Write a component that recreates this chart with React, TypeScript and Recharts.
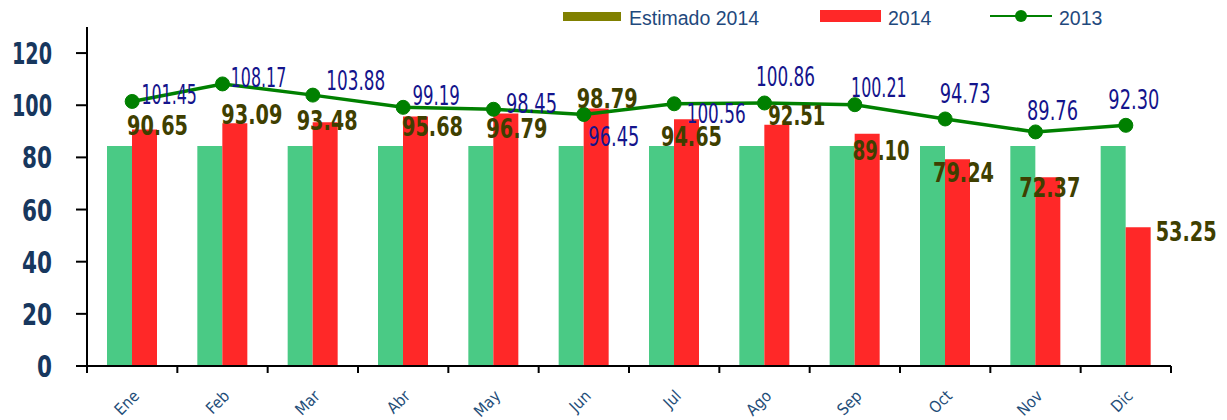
import { ComposedChart, Bar, Line, XAxis, YAxis, LabelList } from "recharts";

const MONTHS = ["Ene", "Feb", "Mar", "Abr", "May", "Jun", "Jul", "Ago", "Sep", "Oct", "Nov", "Dic"];
const ESTIMADO_2014 = [84.4, 84.4, 84.4, 84.4, 84.4, 84.4, 84.4, 84.4, 84.4, 84.4, 84.4, 84.4];
const VALUES_2014 = [90.65, 93.09, 93.48, 95.68, 96.79, 98.79, 94.65, 92.51, 89.1, 79.24, 72.37, 53.25];
const VALUES_2013 = [101.45, 108.17, 103.88, 99.19, 98.45, 96.45, 100.56, 100.86, 100.21, 94.73, 89.76, 92.3];
const Y_TICKS = [0, 20, 40, 60, 80, 100, 120];

// hand-placed label nudges (label centre vs. bar top / dot), as in the source chart
const NUDGE_2014 = [[13, -5], [17, -9], [2, -2], [17, 10], [11, 14], [11, -10], [5, 17], [20, -10], [14, 16], [6, 13], [2, 10], [48, 4]];
const NUDGE_2013 = [[37, -7], [36, -7], [43, -15], [33, -12], [38, -6], [30, 22], [42, 9], [21, -27], [24, -18], [20, -26], [17, -22], [8, -26]];

const W = 1227;
const H = 420;
const MARGIN = { top: 27, right: 56, bottom: 0, left: 0 };
const Y_W = 87;
const X_H = 54;
const PLOT_W = W - MARGIN.left - Y_W - MARGIN.right;
const AXIS_Y = H - MARGIN.bottom - X_H;

const NARROW = "'DejaVu Sans Condensed', 'DejaVu Sans', sans-serif";
const NAVY = "#17375E";

const data = MONTHS.map((m, i) => ({
  month: m,
  est: ESTIMADO_2014[i],
  y2014: VALUES_2014[i],
  y2013: VALUES_2013[i],
}));

// squeeze text to an Agency-FB-like width
function textWidth(s: string, digit: number, one: number, dot: number) {
  let w = 0;
  for (const c of s) w += c === "1" ? one : c === "." ? dot : digit;
  return w;
}

function YTick({ x, y, payload }: any) {
  const s = String(payload.value);
  return (
    <text x={x} y={y + 11} textAnchor="end" fill={NAVY} fontSize={30} fontWeight="bold"
      fontFamily={NARROW} textLength={textWidth(s, 15, 10, 5)} lengthAdjust="spacingAndGlyphs">
      {s}
    </text>
  );
}

function XTick({ x, payload, index }: any) {
  const half = PLOT_W / 24;
  return (
    <g>
      <line x1={x - half} x2={x - half} y1={AXIS_Y} y2={AXIS_Y + 7} stroke="#000" strokeWidth={2} />
      {index === MONTHS.length - 1 && (
        <line x1={x + half} x2={x + half} y1={AXIS_Y} y2={AXIS_Y + 7} stroke="#000" strokeWidth={2} />
      )}
      <text transform={`translate(${x + 8},${AXIS_Y + 31}) rotate(-45)`} textAnchor="end"
        fill="#1F4E79" fontSize={16} fontFamily={NARROW}>
        {payload.value}
      </text>
    </g>
  );
}

function Label2014({ x, y, width, value, index }: any) {
  const [dx, dy] = NUDGE_2014[index];
  const s = Number(value).toFixed(2);
  return (
    <text x={x + width / 2 + dx} y={y + dy + 10} textAnchor="middle" fill="#3F3F00" fontSize={27}
      fontWeight="bold" fontFamily={NARROW} textLength={textWidth(s, 14, 10, 5)} lengthAdjust="spacingAndGlyphs">
      {s}
    </text>
  );
}

function Label2013({ x, y, value, index }: any) {
  const [dx, dy] = NUDGE_2013[index];
  const s = Number(value).toFixed(2);
  return (
    <text x={x + dx} y={y + dy + 10} textAnchor="middle" fill="#14148C" fontSize={27}
      fontFamily={NARROW} textLength={textWidth(s, 11.5, 8, 5)} lengthAdjust="spacingAndGlyphs">
      {s}
    </text>
  );
}

const legendText: React.CSSProperties = {
  position: "absolute",
  top: 9,
  fontFamily: "'Liberation Sans', Arial, sans-serif",
  fontSize: 19.5,
  lineHeight: "18px",
  color: "#1F497D",
  whiteSpace: "nowrap",
};

export default function App() {
  return (
    <div style={{ position: "absolute", left: 0, top: 0, width: W, height: H, background: "#fff" }}>
      <ComposedChart width={W} height={H} data={data} margin={MARGIN} barGap={0} barSize={25}>
        <XAxis dataKey="month" height={X_H} tickLine={false} tick={<XTick />} interval={0}
          axisLine={{ stroke: "#000", strokeWidth: 2 }} />
        <YAxis domain={[0, 130]} ticks={Y_TICKS} width={Y_W} tickSize={11} tickMargin={24}
          axisLine={{ stroke: "#000", strokeWidth: 2 }} tickLine={{ stroke: "#000", strokeWidth: 2 }}
          tick={<YTick />} allowDataOverflow />
        <Bar dataKey="est" fill="#4ACA85" isAnimationActive={false} />
        <Bar dataKey="y2014" fill="#FF2828" isAnimationActive={false}>
          <LabelList dataKey="y2014" content={<Label2014 />} />
        </Bar>
        <Line dataKey="y2013" type="linear" stroke="#008000" strokeWidth={3.5}
          dot={{ r: 7, fill: "#008000", stroke: "#008000", strokeWidth: 1 }} isAnimationActive={false}>
          <LabelList dataKey="y2013" content={<Label2013 />} />
        </Line>
      </ComposedChart>

      <div style={{ position: "absolute", left: 563, top: 12, width: 58, height: 9, background: "#808000" }} />
      <span style={{ ...legendText, left: 629 }}>Estimado 2014</span>
      <div style={{ position: "absolute", left: 820, top: 10, width: 61, height: 12, background: "#FF2828" }} />
      <span style={{ ...legendText, left: 888 }}>2014</span>
      <div style={{ position: "absolute", left: 990, top: 15, width: 62, height: 2, background: "#008000" }} />
      <div style={{ position: "absolute", left: 1015, top: 10, width: 12, height: 12, borderRadius: 6, background: "#008000" }} />
      <span style={{ ...legendText, left: 1059 }}>2013</span>
    </div>
  );
}
